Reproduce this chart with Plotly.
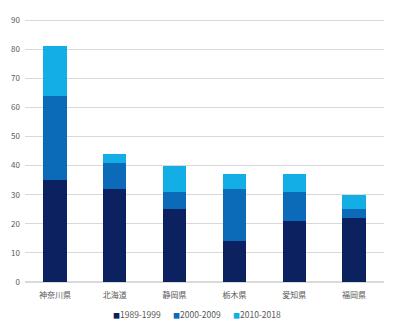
import plotly.graph_objects as go

prefectures = ["神奈川県", "北海道", "静岡県", "栃木県", "愛知県", "福岡県"]
period_labels = ["1989-1999", "2000-2009", "2010-2018"]
v_1989_1999 = [35, 32, 25, 14, 21, 22]
v_2000_2009 = [29, 9, 6, 18, 10, 3]
v_2010_2018 = [17, 3, 9, 5, 6, 5]
colors = ["#0b2160", "#0b6bb8", "#14aee6"]

fig = go.Figure()
for name, vals, col in zip(period_labels, [v_1989_1999, v_2000_2009, v_2010_2018], colors):
    fig.add_trace(go.Bar(x=prefectures, y=vals, name=name, marker_color=col,
                         marker_line_width=0, showlegend=False))

# compact legend below the plot: small colored square followed by the label
for i, (n, c) in enumerate(zip(period_labels, colors)):
    fig.add_annotation(text=f'<span style="color:{c}; font-size:7px">■</span>{n}',
                       xref="paper", yref="paper",
                       x=0.479 + (i - 1) * 0.167, y=-0.12,
                       xanchor="center", yanchor="middle",
                       showarrow=False, font=dict(size=8.5, color="#595959"))

fig.update_layout(
    barmode="stack",
    bargap=0.61,
    width=400, height=329,
    margin=dict(l=25, r=16, t=19, b=47, autoexpand=False),
    plot_bgcolor="white", paper_bgcolor="white",
    font=dict(family="Noto Sans CJK JP", size=8, color="#595959"),
    yaxis=dict(range=[0, 90.4], dtick=10, gridcolor="#d9d9d9", gridwidth=1,
               zeroline=True, zerolinecolor="#d9d9d9", ticks="", ticklabelstandoff=4),
    xaxis=dict(showline=False, ticks="", ticklabelstandoff=7),
)
fig.write_html("out.html")
